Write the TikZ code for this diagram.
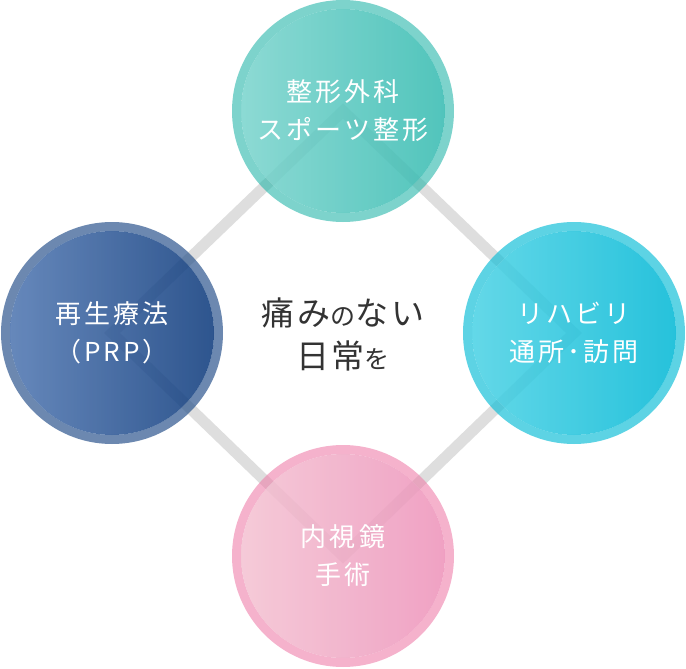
\documentclass[tikz,border=0pt]{standalone}
\usepackage{fontspec}
\setmainfont{Noto Sans CJK JP}
\usetikzlibrary{positioning}
\definecolor{linkGray}{HTML}{DEDEDE}
\definecolor{textDark}{HTML}{333333}
\definecolor{orthoRing}{HTML}{26B6AA}
\definecolor{orthoL}{HTML}{78D3CC}
\definecolor{orthoR}{HTML}{33BAB0}
\definecolor{regenRing}{HTML}{2D568E}
\definecolor{regenL}{HTML}{4B73AF}
\definecolor{regenR}{HTML}{09377A}
\definecolor{rehabRing}{HTML}{18C0D8}
\definecolor{rehabL}{HTML}{48D1E4}
\definecolor{rehabR}{HTML}{00B7D5}
\definecolor{endoRing}{HTML}{EE7FAA}
\definecolor{endoL}{HTML}{F3C1D1}
\definecolor{endoR}{HTML}{ED91B9}
\newcommand{\bubblefont}{\fontsize{26}{38}\selectfont\addfontfeature{LetterSpace=12}}
\newcommand{\smallkana}[1]{{\fontsize{25}{25}\selectfont #1}}

\begin{document}
\begin{tikzpicture}[x=1pt, y=-1pt,
  link/.style={linkGray, line width=11pt, line join=miter},
  ring/.style={even odd rule, fill opacity=.6},
  bubble/.style={circle, minimum size=204pt, inner sep=0pt, fill opacity=.85,
                 text opacity=1, text=white, align=center, font=\bubblefont},
]
  \useasboundingbox (0,0) rectangle (686,669);

  % centres
  \coordinate (c-ortho) at (343,111);
  \coordinate (c-regen) at (112,333);
  \coordinate (c-rehab) at (574,333);
  \coordinate (c-endo)  at (343,556);

  % diamond
  \draw[link] (c-ortho) -- (c-rehab) -- (c-endo) -- (c-regen) -- cycle;

  % Orthopaedics
  \fill[ring, orthoRing] (c-ortho) circle[radius=111pt] circle[radius=102pt];
  \node[bubble, left color=orthoL, right color=orthoR] (ortho) at (c-ortho)
    {整形外科\\スポーツ整形};

  % Regenerative medicine
  \fill[ring, regenRing, fill opacity=.7] (c-regen) circle[radius=111pt] circle[radius=102pt];
  \node[bubble, left color=regenL, right color=regenR] (regen) at (c-regen)
    {再生療法\\（PRP）};

  % Rehabilitation
  \fill[ring, rehabRing, fill opacity=.7] (c-rehab) circle[radius=111pt] circle[radius=102pt];
  \node[bubble, left color=rehabL, right color=rehabR] (rehab) at (c-rehab)
    {リハビリ\\通所･訪問};

  % Endoscopic surgery
  \fill[ring, endoRing] (c-endo) circle[radius=111pt] circle[radius=102pt];
  \node[bubble, left color=endoL, right color=endoR] (endo) at (c-endo)
    {内視鏡\\手術};

  % centre text
  \node[text=textDark, align=center,
        font=\fontsize{33}{43}\selectfont\addfontfeature{LetterSpace=8}] (motto) at (343,334)
    {痛み\smallkana{の}ない\\日常\smallkana{を}};
\end{tikzpicture}
\end{document}
